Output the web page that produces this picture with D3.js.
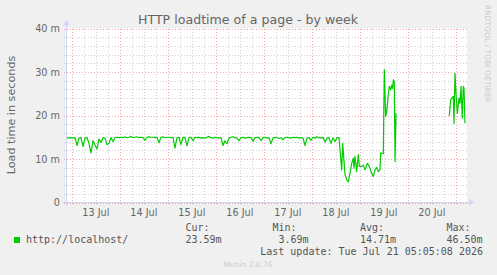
<!DOCTYPE html>
<html><head><meta charset="utf-8">
<script src="https://cdn.jsdelivr.net/npm/d3@7"></script>
<style>body{margin:0;background:#F0F0F0}svg{display:block}</style>
</head><body>
<svg id="c" width="497" height="275"></svg>
<script>
const title = "HTTP loadtime of a page - by week";
const yLabel = "Load time in seconds";
const startTime = "2026-07-12T21:35:00Z";
const endTime = "2026-07-21T05:35:00Z";
// hourly samples from startTime (hours 0..136)
const hourlyValues = [
14.9,14.8,14.9,14.8,14.9,13.1,14.8,14.9,12.9,14.8,
14.9,13.6,11.4,14.2,13.2,12.3,14.6,13.8,14.9,14.8,
13.3,13.6,14.9,14.0,14.9,15.0,14.9,15.0,14.9,15.1,
14.9,15.0,15.2,14.9,15.0,15.1,14.9,15.0,14.9,14.3,
15.0,15.1,15.0,15.0,14.9,15.0,13.7,15.0,15.1,14.9,
15.0,15.0,14.9,15.0,12.5,14.9,15.0,13.3,15.0,14.9,
13.0,14.9,15.0,14.2,15.0,14.9,15.0,14.8,14.9,14.8,
15.0,15.2,14.9,14.8,15.0,14.9,14.8,14.9,13.1,14.2,
13.5,14.8,15.0,15.1,14.9,14.8,14.2,14.9,15.0,14.8,
14.9,15.0,14.9,14.1,14.9,15.0,14.9,14.2,14.9,15.0,
14.8,14.9,13.5,14.8,15.0,14.9,14.7,14.9,14.4,14.9,
15.0,14.9,14.8,15.0,14.9,15.0,14.8,14.9,14.8,13.1,
14.8,14.9,14.3,15.0,14.8,15.1,14.9,14.8,15.0,13.9,
14.8,14.9,13.6,14.9,14.0,14.9,14.9];
// finer samples after hour 136 (hours since startTime)
const detailHours = [137.35,137.85,139,139.85,140.65,141.5,142.35,143.15,143.5,144,144.85,145.65,146.15,147.35,148.15,149,150.15,151.15,152.35,153.15,154,154.85,155.65,156.5,156.85,158.15,158.65,159.35,159.85,160.65,161.15,161.85,162.35,162.85,163.15,163.65,164,164.5,165,
191.15,191.85,192.35,193.15,193.5,194,194.5,195.15,196,196.5,197,197.65,198.15,198.5,199];
const detailValues = [7.5,13.6,6.4,5.2,4.8,6.7,9.0,10.2,7.9,10.6,7.1,11.0,8.3,8.3,8.6,7.5,9.0,8.3,6.7,6.0,7.5,8.1,7.1,7.5,11.4,11.2,30.5,19.8,20.9,24.8,26.7,25.9,27.0,26.2,28.2,27.8,9.4,20.5,null,
19.9,23.6,24.0,24.4,18.2,29.7,25.1,20.5,24.0,22.8,26.7,19.4,26.7,26.3,18.2];
const yTicks = [0,10,20,30,40];
const yTickLabels = ["0","10 m","20 m","30 m","40 m"];
const dayLabels = ["13 Jul","14 Jul","15 Jul","16 Jul","17 Jul","18 Jul","19 Jul","20 Jul"];
const legendName = "http://localhost/";
const statLabels = ["Cur:","Min:","Avg:","Max:"];
const statValues = ["23.59m","3.69m","14.71m","46.50m"];
const lastUpdate = "Last update: Tue Jul 21 05:05:08 2026";
const footer = "Munin 2.0.76";
const watermark = "RRDTOOL / TOBI OETIKER";

const svg = d3.select("#c");
const L = 67, R = 467, T = 28.5, B = 202.5;
const t0 = new Date(startTime), t1 = new Date(endTime);
const x = d3.scaleUtc().domain([t0, t1]).range([L, R]);
const y = d3.scaleLinear().domain([0, 40]).range([B, T]);
const hr = h => new Date(t0.getTime() + h * 3600000);

const points = hourlyValues.map((v, i) => ({t: hr(i), v}))
  .concat(detailHours.map((h, i) => ({t: hr(h), v: detailValues[i]})));

svg.append("rect").attr("width", 497).attr("height", 275).attr("fill", "#F0F0F0");
svg.append("rect").attr("x", L).attr("y", T).attr("width", R - L).attr("height", B - T).attr("fill", "#FFFFFF");

const minorCol = "rgba(160,160,160,0.5)", majorCol = "rgba(230,110,110,0.6)";
const g = svg.append("g").attr("shape-rendering", "crispEdges");
// horizontal grid
d3.range(0, 41, 2).forEach(v => {
  const major = v % 10 === 0;
  g.append("line").attr("x1", L - 3).attr("x2", R).attr("y1", Math.round(y(v)) + 0.5).attr("y2", Math.round(y(v)) + 0.5)
    .attr("stroke", major ? majorCol : minorCol).attr("stroke-dasharray", "1,2");
});
// vertical grid
const sixHours = d3.utcHour.every(6).range(t0, t1);
sixHours.forEach(d => {
  const major = d.getUTCHours() === 0;
  const xx = Math.round(x(d)) + 0.5;
  g.append("line").attr("x1", xx).attr("x2", xx).attr("y1", T).attr("y2", B + 3)
    .attr("stroke", major ? majorCol : minorCol).attr("stroke-dasharray", "1,2");
});

// axes
const axisCol = "#CFD6F8";
g.append("line").attr("x1", L - 4).attr("x2", R + 3).attr("y1", B).attr("y2", B).attr("stroke", axisCol);
g.append("line").attr("x1", L - 0.5).attr("x2", L - 0.5).attr("y1", B + 3).attr("y2", T - 5).attr("stroke", axisCol);
svg.append("path").attr("d", `M${R+2},${B-3.5} L${R+7},${B} L${R+2},${B+3.5} Z`).attr("fill", axisCol);
svg.append("path").attr("d", `M${L-4},${T-3} L${L-0.5},${T-8} L${L+3},${T-3} Z`).attr("fill", axisCol);

const fontSans = "DejaVu Sans, sans-serif", fontMono = "DejaVu Sans Mono, monospace", textCol = "#666666";

// y tick labels
yTicks.forEach((v, i) => {
  svg.append("text").attr("x", 60).attr("y", y(v) + 3.5).attr("text-anchor", "end")
    .attr("font-family", fontSans).attr("font-size", 9.7).attr("fill", textCol).text(yTickLabels[i]);
});
// x labels at noon
d3.utcDay.range(d3.utcDay.ceil(t0), t1).forEach((d, i) => {
  if (i >= dayLabels.length) return;
  const noon = new Date(d.getTime() + 12 * 3600000);
  svg.append("text").attr("x", x(noon)).attr("y", 216).attr("text-anchor", "middle")
    .attr("font-family", fontSans).attr("font-size", 9.7).attr("fill", textCol).text(dayLabels[i]);
});

// data line
const line = d3.line().defined(d => d.v != null).x(d => x(d.t)).y(d => y(d.v));
svg.append("path").datum(points).attr("d", line).attr("fill", "none")
  .attr("stroke", "#00CC00").attr("stroke-width", 1.2).attr("stroke-linejoin", "round");

// title and labels
svg.append("text").attr("x", 248).attr("y", 23.5).attr("text-anchor", "middle")
  .attr("font-family", fontSans).attr("font-size", 12.6).attr("fill", textCol).text(title);
svg.append("text").attr("transform", "translate(15,115) rotate(-90)").attr("text-anchor", "middle")
  .attr("font-family", fontSans).attr("font-size", 11.2).attr("fill", textCol).text(yLabel);
svg.append("text").attr("transform", "translate(484.5,5) rotate(90)").attr("text-anchor", "start")
  .attr("font-family", fontSans).attr("font-size", 7.6).attr("fill", "#CCCCCC").text(watermark);

// legend
svg.append("rect").attr("x", 14).attr("y", 237).attr("width", 6).attr("height", 6).attr("fill", "#00CC00");
svg.append("text").attr("x", 26).attr("y", 243).attr("font-family", fontMono).attr("font-size", 10)
  .attr("fill", "#555555").text(legendName);
const statX = [185.5, 272.5, 360, 446.5];
const valX = [185.5, 278.5, 360, 446.5];
statLabels.forEach((s, i) => {
  svg.append("text").attr("x", statX[i]).attr("y", 231).attr("font-family", fontMono).attr("font-size", 10)
    .attr("fill", "#555555").text(s);
  svg.append("text").attr("x", valX[i]).attr("y", 243).attr("font-family", fontMono).attr("font-size", 10)
    .attr("fill", "#555555").text(statValues[i]);
});
svg.append("text").attr("x", 483).attr("y", 255).attr("text-anchor", "end").attr("font-family", fontMono)
  .attr("font-size", 10).attr("fill", "#555555").text(lastUpdate);
svg.append("text").attr("x", 248).attr("y", 267).attr("text-anchor", "middle").attr("font-family", fontSans)
  .attr("font-size", 7.5).attr("fill", "#CCCCCC").text(footer);
</script>
</body></html>
